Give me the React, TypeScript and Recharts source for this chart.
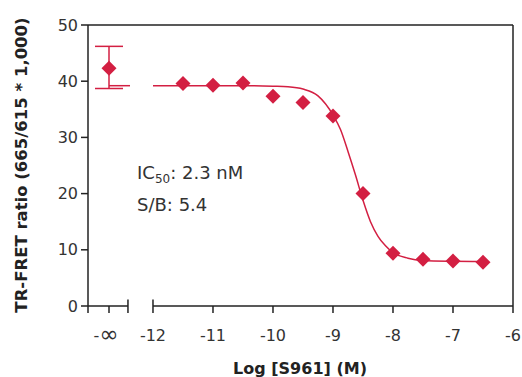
import React from 'react';
import { ComposedChart, XAxis, YAxis, Line, Scatter, ErrorBar, ReferenceLine } from 'recharts';

const RED = '#d31f42';
const AXIS = '#222';
const FONT = '"DejaVu Sans", sans-serif';

// x positions (log M)
const AXIS_LEFT = -13.083;
const ZERO_DOSE_X = -12.733;
const BREAK_END = -12.417;
const AXIS_RIGHT = -6;

// measured points
const doseLog = [-11.5, -11, -10.5, -10, -9.5, -9, -8.5, -8, -7.5, -7, -6.5];
const ratio = [39.6, 39.3, 39.7, 37.3, 36.2, 33.8, 20.0, 9.4, 8.3, 8.0, 7.8];

// zero-dose control (mean, lower/upper error)
const controlRatio = 42.3;
const controlErr = [3.6, 3.9];

// fitted curve
const fitLog = [-12, -11, -10.5, -10, -9.75, -9.5, -9.25, -9.0, -8.875, -8.75, -8.625, -8.5, -8.375, -8.25, -8.125, -8, -7.75, -7.5, -7, -6.5];
const fitRatio = [39.2, 39.2, 39.2, 39.1, 39.0, 38.6, 37.4, 34.0, 31.4, 27.5, 23.3, 18.8, 15.0, 12.4, 10.7, 9.5, 8.5, 8.1, 7.95, 7.9];

const zeroFitLog = [-12.733, -12.383];
const zeroFitRatio = [39.2, 39.2];

const xTicks = [AXIS_LEFT, ZERO_DOSE_X, BREAK_END, -12, -11, -10, -9, -8, -7, -6];
const yTicks = [0, 10, 20, 30, 40, 50];

const points = doseLog.map((x, i) => ({ x, y: ratio[i] }));
const control = [{ x: ZERO_DOSE_X, y: controlRatio, err: controlErr }];
const fit = fitLog.map((x, i) => ({ x, y: fitRatio[i] }));
const zeroFit = zeroFitLog.map((x, i) => ({ x, y: zeroFitRatio[i] }));

const Diamond = (props: any) => {
  const { cx, cy } = props;
  const r = 7.5;
  return (
    <polygon
      points={`${cx},${cy - r} ${cx + r},${cy} ${cx},${cy + r} ${cx - r},${cy}`}
      fill={RED}
    />
  );
};

const XTick = (props: any) => {
  const { x, y, payload } = props;
  const v = payload.value;
  if (v === AXIS_LEFT || v === BREAK_END) return <g />;
  if (v === ZERO_DOSE_X) {
    return (
      <text x={x - 3} y={y} dy={12} textAnchor="middle" fontFamily={FONT} fontSize={16} fill="#333">
        -<tspan fontSize={23} dy={1}>∞</tspan>
      </text>
    );
  }
  return (
    <text x={x} y={y} dy={12} textAnchor="middle" fontFamily={FONT} fontSize={16} fill="#333">
      {String(v)}
    </text>
  );
};

export default function App() {
  return (
    <div style={{ position: 'absolute', left: 0, top: 0, width: 522, height: 377 }}>
      <ComposedChart width={522} height={377} margin={{ top: 25, right: 9, bottom: 0, left: 0 }}>
        <XAxis
          dataKey="x"
          type="number"
          domain={[AXIS_LEFT, AXIS_RIGHT]}
          allowDataOverflow
          ticks={xTicks}
          interval={0}
          axisLine={false}
          tickLine={{ stroke: AXIS, strokeWidth: 1.5 }}
          tickSize={7}
          tickMargin={16}
          height={71}
          tick={<XTick />}
        />
        <YAxis
          type="number"
          domain={[0, 50]}
          allowDataOverflow
          ticks={yTicks}
          interval={0}
          width={88}
          axisLine={{ stroke: AXIS, strokeWidth: 1.5 }}
          tickLine={{ stroke: AXIS, strokeWidth: 1.5 }}
          tickSize={7}
          tickMargin={3}
          tick={{ fill: '#333', fontSize: 16, fontFamily: FONT }}
        />
        <ReferenceLine y={50} stroke={AXIS} strokeWidth={1.5} />
        <ReferenceLine x={AXIS_RIGHT} stroke={AXIS} strokeWidth={1.5} />
        <ReferenceLine segment={[{ x: AXIS_LEFT, y: 0 }, { x: BREAK_END, y: 0 }]} stroke={AXIS} strokeWidth={1.5} />
        <ReferenceLine segment={[{ x: -12, y: 0 }, { x: AXIS_RIGHT, y: 0 }]} stroke={AXIS} strokeWidth={1.5} />
        <ReferenceLine segment={[{ x: BREAK_END, y: 0 }, { x: BREAK_END, y: 1.15 }]} stroke={AXIS} strokeWidth={1.5} />
        <ReferenceLine segment={[{ x: -12, y: 0 }, { x: -12, y: 1.15 }]} stroke={AXIS} strokeWidth={1.5} />
        <Line data={fit} dataKey="y" type="monotone" stroke={RED} strokeWidth={1.5} dot={false} isAnimationActive={false} />
        <Line data={zeroFit} dataKey="y" type="linear" stroke={RED} strokeWidth={1.5} dot={false} isAnimationActive={false} />
        <Scatter data={control} dataKey="y" shape={Diamond} isAnimationActive={false}>
          <ErrorBar dataKey="err" direction="y" width={14} stroke={RED} strokeWidth={1.5} isAnimationActive={false} />
        </Scatter>
        <Scatter data={points} dataKey="y" shape={Diamond} isAnimationActive={false} />
      </ComposedChart>
      <svg width={522} height={377} style={{ position: 'absolute', left: 0, top: 0, pointerEvents: 'none' }}>
        <text
          transform="translate(21,165) rotate(-90)"
          textAnchor="middle"
          dominantBaseline="central"
          fontFamily={FONT}
          fontWeight="bold"
          fontSize={16.5}
          fill="#222"
        >
          TR-FRET ratio (665/615 * 1,000)
        </text>
        <text x={300} y={374} textAnchor="middle" fontFamily={FONT} fontWeight="bold" fontSize={16} fill="#222">
          Log [S961] (M)
        </text>
        <text x={137} y={179} fontFamily={FONT} fontSize={18} fill="#333">
          IC<tspan fontSize={12} dy={4}>50</tspan><tspan dy={-4}>: 2.3 nM</tspan>
        </text>
        <text x={137} y={211} fontFamily={FONT} fontSize={18} fill="#333">
          S/B: 5.4
        </text>
      </svg>
    </div>
  );
}
